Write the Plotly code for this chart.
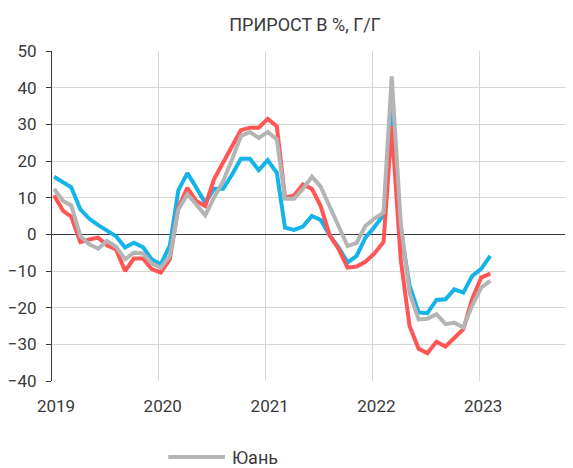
import pandas as pd
import plotly.graph_objects as go

# Monthly observations, Jan 2019 .. Feb 2023
months = pd.date_range("2019-01-01", periods=50, freq="MS") + pd.Timedelta(days=7)

blue = [15.7, 14.2, 12.8, 6.8, 4.3, 2.5, 1.0, -0.5, -3.6, -2.3, -3.5, -6.8,
        -8.2, -3.1, 12.0, 16.7, 12.8, 8.6, 12.4, 12.4, 16.3, 20.6, 20.6, 17.5,
        20.2, 16.8, 1.8, 1.2, 2.1, 5.0, 3.9, -0.3, -3.6, -7.7, -5.9, -0.9,
        2.0, 5.3, 35.0, 1.0, -14.0, -21.3, -21.5, -17.9, -17.7, -15.0, -15.9, -11.4,
        -9.4, -5.9]

red = [10.6, 6.4, 4.8, -2.1, -1.4, -0.9, -3.0, -4.1, -10.0, -6.6, -6.6, -9.5,
       -10.4, -6.8, 7.3, 12.7, 9.1, 7.7, 15.0, 19.5, 23.9, 28.4, 29.1, 29.1,
       31.5, 29.5, 10.0, 10.6, 13.6, 12.4, 7.7, -0.3, -4.1, -9.1, -8.8, -7.5,
       -5.2, -2.1, 29.5, -7.0, -25.0, -31.2, -32.4, -29.3, -30.6, -28.2, -25.9, -17.7,
       -11.8, -10.7]

yuan = [12.4, 9.1, 7.9, -0.5, -2.7, -3.9, -1.8, -3.4, -6.8, -5.0, -5.2, -7.9,
        -9.1, -5.9, 6.8, 10.9, 8.2, 5.2, 10.0, 14.5, 20.4, 26.8, 27.9, 26.3,
        27.9, 25.9, 9.7, 9.7, 12.4, 15.7, 13.0, 7.7, 2.3, -3.2, -2.3, 2.3,
        4.3, 5.9, 43.1, 3.0, -16.0, -23.2, -23.0, -21.8, -24.5, -24.1, -25.4, -19.5,
        -14.5, -12.7]

year_ticks = ["2019-01-01", "2020-01-01", "2021-01-01", "2022-01-01", "2023-01-01"]
year_labels = ["2019", "2020", "2021", "2022", "2023"]
y_ticks = list(range(-40, 51, 10))

title = "ПРИРОСТ В %, Г/Г"
legend_label = "Юань"

TXT = "#3a3a3a"
GRID = "#d6d6d6"
FONT = "Roboto, sans-serif"
BLUE = "#15b4e8"
RED = "#ff5555"
GRAY = "#b4b4b4"

# page body has an 8px default margin: figure is 8px smaller on each used side
W, H = 565, 460
L, T, B = 41, 43, 87
PW = W - L
PH = H - T - B

x_start = pd.Timestamp("2019-01-01")
x_end = x_start + pd.Timedelta(days=(PW / 107.4) * 365.25)

fig = go.Figure()
fig.add_trace(go.Scatter(x=months, y=blue, mode="lines", name="blue",
                         line=dict(color=BLUE, width=4), showlegend=False))
fig.add_trace(go.Scatter(x=months, y=red, mode="lines", name="red",
                         line=dict(color=RED, width=4), showlegend=False))
fig.add_trace(go.Scatter(x=months, y=yuan, mode="lines", name=legend_label,
                         line=dict(color=GRAY, width=4), showlegend=False))

fig.update_layout(
    width=W, height=H,
    margin=dict(l=L, r=0, t=T, b=B),
    paper_bgcolor="white", plot_bgcolor="white",
    font=dict(family=FONT, size=17, color=TXT),
    title=dict(text=title, x=297 / W, xref="container", xanchor="center",
               y=1 - 16.5 / H, yref="container", yanchor="middle",
               font=dict(family=FONT, size=18, color=TXT)),
    xaxis=dict(type="date", range=[x_start, x_end],
               tickvals=year_ticks, ticktext=year_labels,
               showgrid=True, gridcolor=GRID, gridwidth=1,
               showline=False, zeroline=False, ticks="",
               ticklabelshift=4, ticklabelstandoff=13,
               tickfont=dict(family=FONT, size=17, color=TXT)),
    xaxis2=dict(type="date", range=[x_start, x_end], overlaying="x",
                anchor="free", position=40 / 90, side="bottom",
                tickvals=year_ticks, ticks="outside", ticklen=5,
                tickcolor=TXT, tickwidth=1,
                showticklabels=False, showgrid=False, showline=False,
                zeroline=False),
    yaxis=dict(range=[-40, 50], tickvals=y_ticks,
               showgrid=True, gridcolor=GRID, gridwidth=1,
               showline=True, linecolor=TXT, linewidth=1,
               ticks="outside", ticklen=5, tickcolor=TXT,
               zeroline=True, zerolinecolor=TXT, zerolinewidth=1.3,
               ticklabelstandoff=6,
               tickfont=dict(family=FONT, size=17, color=TXT)),
    showlegend=False,
)

# Legend entry (only the visible "Юань" row of the original legend)
ly = (PH - (457 - 8 - T)) / PH
fig.add_shape(type="line", xref="paper", yref="paper",
              x0=(166 - 8 - L) / PW, x1=(223 - 8 - L) / PW,
              y0=ly, y1=ly,
              line=dict(color=GRAY, width=4))
fig.add_annotation(text=legend_label, xref="paper", yref="paper",
                   x=(228 - 8 - L) / PW, y=ly,
                   xanchor="left", yanchor="middle", showarrow=False,
                   font=dict(family=FONT, size=18, color=TXT))

fig.write_html("out.html")
